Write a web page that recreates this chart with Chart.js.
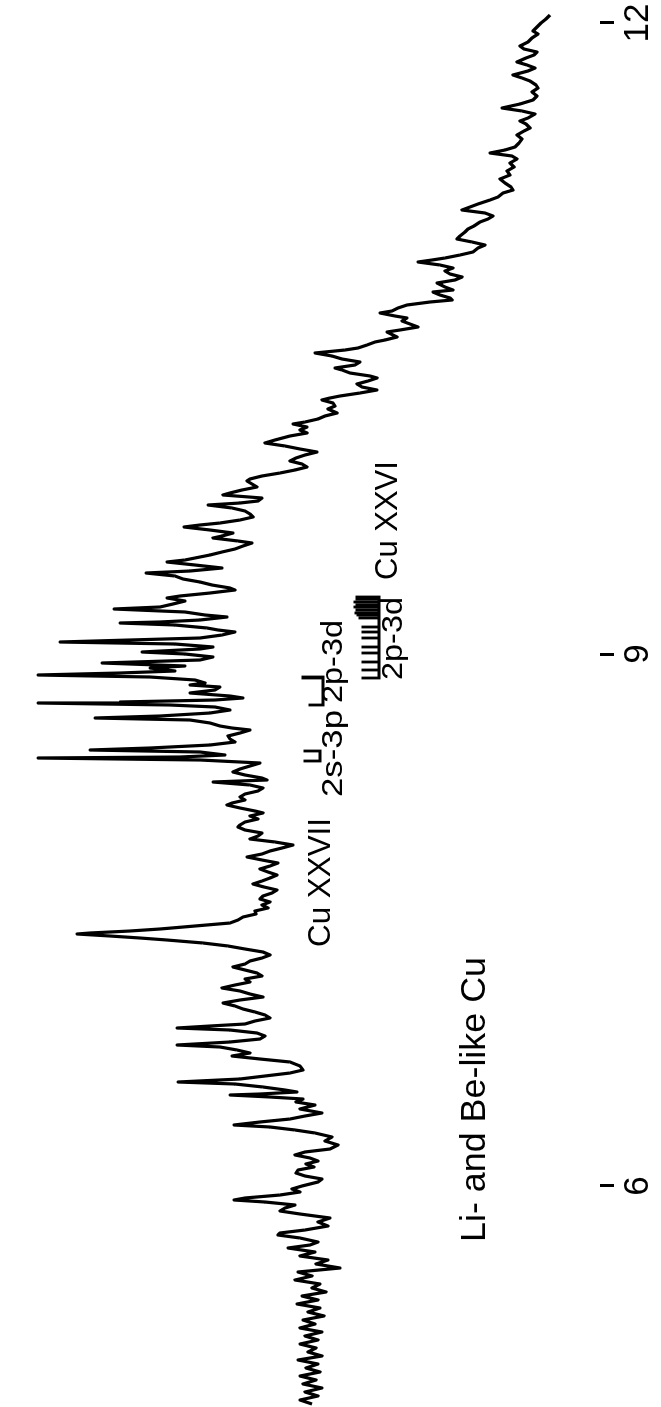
<!DOCTYPE html>
<html lang="en">
<head>
<meta charset="UTF-8" />
<title>Li- and Be-like Cu spectrum</title>
<script src="https://cdn.jsdelivr.net/npm/chart.js"></script>
<style>
  html, body { margin: 0; padding: 0; background: #fff; overflow: hidden; }
  /* the figure is printed sideways: draw it landscape, then turn it */
  #wrap {
    position: absolute; left: 0; top: 0;
    width: 1407px; height: 661px;
    transform-origin: 0 0;
    transform: translate(0, 1407px) rotate(-90deg);
  }
</style>
</head>
<body>
<div id="wrap"><canvas id="spectrum" width="1407" height="661"></canvas></div>
<script>
// scan position along the plate (mm from the long-wavelength end)
const SCAN_MM = [
  1.5,1.9,2.3,2.7,3.1,3.4,3.8,4.2,4.6,4.9,
  5.2,5.5,5.8,6.2,6.5,6.8,7.1,7.5,7.8,8.1,
  8.5,8.8,9.2,9.6,10.0,10.4,10.8,11.1,11.4,11.8,
  12.1,12.4,12.8,13.1,13.5,13.9,14.3,14.7,15.0,15.3,
  15.6,15.9,16.3,16.7,17.1,17.5,17.9,18.3,18.7,19.0,
  19.3,19.7,20.0,20.4,20.7,21.0,21.3,21.6,21.9,22.2,
  22.6,22.9,23.2,23.6,23.9,24.2,24.5,24.8,25.2,25.5,
  25.8,26.0,26.2,26.5,26.8,27.1,27.4,27.7,28.0,28.3,
  28.7,29.0,29.2,29.5,29.8,30.0,30.2,30.5,30.8,31.1,
  31.3,31.6,31.8,32.1,32.4,32.7,33.0,33.2,33.5,33.7,
  34.0,34.2,34.5,34.8,35.0,35.3,35.6,35.9,36.2,36.5,
  36.8,37.0,37.3,37.6,37.8,38.1,38.4,38.7,39.0,39.3,
  39.6,39.8,40.0,40.3,40.6,40.9,41.3,41.6,41.9,42.2,
  42.4,42.7,43.0,43.3,43.6,44.0,44.3,44.6,44.9,45.2,
  45.5,45.8,46.1,46.4,46.7,47.0,47.3,47.6,47.9,48.1,
  48.4,48.7,49.0,49.3,49.5,49.8,50.1,50.3,50.5,50.8,
  51.1,51.4,51.7,52.0,52.3,52.5,52.7,53.0,53.3,53.6,
  53.8,54.1,54.3,54.6,54.9,55.2,55.5,55.8,56.0,56.2,
  56.5,56.8,57.1,57.3,57.6,57.9,58.2,58.5,58.8,59.0,
  59.3,59.6,59.8,60.1,60.4,60.7,60.9,61.2,61.5,61.7,
  62.0,62.2,62.3,62.5,62.8,63.0,63.2,63.5,63.8,64.0,
  64.2,64.4,64.7,64.9,65.2,65.4,65.7,66.0,66.3,66.6,
  66.8,67.1,67.3,67.5,67.7,68.0,68.3,68.5,68.7,69.0,
  69.3,69.6,69.8,70.0,70.2,70.3,70.5,70.7,71.0,71.3,
  71.6,71.8,72.0,72.3,72.6,72.8,73.0,73.3,73.6,73.9,
  74.2,74.5,74.8,75.0,75.2,75.5,75.7,75.8,76.0,76.3,
  76.6,76.9,77.2,77.5,77.8,78.0,78.2,78.5,78.8,79.1,
  79.4,79.7,80.0,80.3,80.5,80.8,81.1,81.3,81.6,81.9,
  82.2,82.5,82.7,83.0,83.3,83.6,83.9,84.2,84.5,84.8,
  85.1,85.4,85.7,86.0,86.3,86.6,86.9,87.2,87.5,87.8,
  88.1,88.4,88.7,89.0,89.3,89.6,89.9,90.2,90.5,90.8,
  91.1,91.4,91.7,92.0,92.3,92.6,92.9,93.1,93.3,93.4,
  93.6,93.8,94.0,94.3,94.6,94.9,95.2,95.5,95.8,96.1,
  96.4,96.7,97.0,97.3,97.6,97.9,98.2,98.5,98.8,99.1,
  99.4,99.7,100.0,100.3,100.6,100.9,101.2,101.5,101.8,102.1,
  102.4,102.6,102.8,103.0,103.3,103.6,103.9,104.2,104.5,104.7,
  105.0,105.3,105.6,105.9,106.2,106.6,107.0,107.3,107.6,107.9,
  108.2,108.4,108.7,109.0,109.2,109.4,109.5,109.7,109.9,110.2,
  110.5,110.9,111.3,111.6,111.9,112.2,112.5,112.7,113.0,113.3,
  113.7,114.1,114.5,114.9,115.2,115.5,115.8,116.1,116.4,116.7,
  117.0,117.3,117.6,117.9,118.2,118.6,118.9,119.2,119.5,119.8,
  120.0,120.2,120.5,120.8,121.1,121.4,121.8,122.2,122.6,123.0,
  123.3,123.5,123.8,124.2,124.5,124.8,125.2,125.6,126.0,126.4,
  126.8,127.2,127.6,128.0,128.4,128.8,129.2,129.6,130.0,130.4,
  130.8,131.2,131.6,132.0,132.4,132.8,133.2,133.6,134.0,134.4,
  134.8,135.2,135.6,136.0,136.4,136.8,137.2,137.6,138.0,138.4,
  138.8,139.2,139.6,140.0,140.4
];

// densitometer signal (arb. units)
const COUNTS = [
  50,54,59,63,67,62,68,72,80,76,
  63,66,74,83,73,65,72,87,78,70,
  64,62,68,63,67,80,98,78,65,72,
  80,74,70,76,83,78,81,85,95,110,
  88,83,90,86,93,90,100,95,89,87,
  97,102,110,122,130,138,115,107,112,120,
  126,132,135,140,143,128,115,122,127,140,
  155,168,182,160,147,155,150,138,145,163,
  155,147,167,160,150,148,170,193,202,208,
  220,205,193,198,190,182,200,213,207,203,
  215,225,233,242,255,285,268,258,240,245,
  265,258,250,230,223,232,243,238,223,240,
  260,270,278,267,265,272,263,275,282,295,
  307,293,300,293,310,325,335,315,300,283,
  295,304,310,298,293,305,320,338,350,353,
  348,343,358,370,377,338,342,360,392,368,
  355,350,347,360,380,400,416,390,367,378,
  387,362,348,357,365,378,390,405,415,433,
  405,378,410,454,425,417,400,388,370,365,
  390,420,433,415,427,440,486,415,395,373,
  400,440,480,425,393,382,365,378,400,470,
  540,425,387,400,458,415,387,400,498,415,
  450,425,480,562,450,405,395,410,380,385,
  410,370,357,385,480,562,430,385,370,390,
  440,505,410,390,380,368,350,360,372,370,
  365,390,450,510,400,375,420,562,400,340,
  350,360,367,355,338,333,387,350,337,342,
  355,360,355,368,373,360,345,337,350,342,
  355,360,362,355,338,342,350,325,307,318,
  330,338,353,338,322,330,340,332,323,330,
  338,347,336,323,328,337,340,330,338,332,
  345,344,357,362,370,405,440,470,510,523,
  490,460,433,397,372,355,337,330,338,350,
  355,367,355,343,338,355,350,365,378,360,
  350,337,360,377,365,357,345,335,330,345,
  355,390,423,370,343,335,340,370,423,380,
  363,350,368,340,310,300,297,310,335,360,
  422,365,337,315,303,340,370,330,297,304,
  285,300,278,295,310,340,366,330,305,285,
  268,275,262,270,295,305,290,282,294,286,
  302,304,295,278,282,298,308,300,320,355,
  366,335,305,315,320,300,270,282,272,295,
  320,322,300,282,290,312,285,300,272,284,
  260,302,288,305,280,288,274,298,282,303,
  280,292,276,297,285,300,278,295,282,300,
  284,292,278,302,282,294,280,300,284,297,
  278,295,282,300,288
];

// wavelength fiducials (Å) and where they sit on the scan
const TICK_MM = [2.3, 65.4, 118.6];
const TICK_LABELS = ['12', '9', '6'];

// text on the plot: x in mm where the text starts, base = baseline in counts
const NOTES = [
  { text: 'Cu XXVI', at: 58.0, base: 203, size: 31 },
  { text: '2p-3d', at: 68.0, base: 198, size: 30, span: 8.3 },
  { text: '2s-3p', at: 79.7, base: 258, size: 30, span: 8.7 },
  { text: '2p-3d', at: 70.3, base: 258, size: 30, span: 8.3 },
  { text: 'Cu XXVII', at: 94.7, base: 270, size: 32, span: 12.9 },
  { text: 'Li- and Be-like Cu', at: 124.2, base: 115, size: 35, span: 28.5 }
];

// line identification combs: bar level, and each line [mm, top]
const MARKS = [
  { base: 221, lines: [[59.7,243],[59.9,243],[60.2,245],[60.5,243],[60.7,245],[61.0,243],
    [61.3,244],[61.5,242],[61.8,240],[62.7,237],[63.2,237],[63.8,237],[64.7,237],
    [65.3,237],[66.2,237],[67.0,237],[67.8,237]] },
  { base: 277, lines: [[67.8,297],[67.7,297],[70.5,290]] },
  { base: 280, lines: [[75.1,295],[76.1,295]] }
];

const notesPlugin = {
  id: 'notes',
  afterDatasetsDraw(chart) {
    const ctx = chart.ctx;
    const xs = chart.scales.x, ys = chart.scales.y;
    ctx.save();
    ctx.fillStyle = '#000';
    ctx.strokeStyle = '#000';
    ctx.textBaseline = 'alphabetic';
    ctx.textAlign = 'left';
    NOTES.forEach(n => {
      ctx.save();
      ctx.font = n.size + 'px "Liberation Sans", Arial, sans-serif';
      ctx.translate(xs.getPixelForValue(n.at), ys.getPixelForValue(n.base));
      if (n.span) {
        const want = Math.abs(xs.getPixelForValue(n.at - n.span) - xs.getPixelForValue(n.at));
        ctx.scale(want / ctx.measureText(n.text).width, 1);
      }
      ctx.fillText(n.text, 0, 0);
      ctx.restore();
    });
    ctx.lineWidth = 2.8;
    ctx.lineCap = 'square';
    MARKS.forEach(m => {
      const pos = m.lines.map(l => l[0]);
      const y0 = ys.getPixelForValue(m.base);
      ctx.beginPath();
      ctx.moveTo(xs.getPixelForValue(Math.min(...pos)), y0);
      ctx.lineTo(xs.getPixelForValue(Math.max(...pos)), y0);
      m.lines.forEach(([mm, top]) => {
        const x = xs.getPixelForValue(mm);
        ctx.moveTo(x, y0);
        ctx.lineTo(x, ys.getPixelForValue(top));
      });
      ctx.stroke();
    });
    ctx.restore();
  }
};

Chart.defaults.font.family = '"Liberation Sans", Arial, sans-serif';
Chart.defaults.color = '#000';

new Chart(document.getElementById('spectrum'), {
  type: 'line',
  data: {
    datasets: [{
      data: SCAN_MM.map((x, i) => ({ x: x, y: COUNTS[i] })),
      borderColor: '#000',
      borderWidth: 3.2,
      borderJoinStyle: 'round',
      pointRadius: 0,
      tension: 0,
      fill: false
    }]
  },
  options: {
    responsive: false,
    animation: false,
    events: [],
    layout: { padding: 0 },
    plugins: { legend: { display: false }, tooltip: { enabled: false } },
    scales: {
      x: {
        type: 'linear',
        reverse: true,
        min: 0,
        max: 140.7,
        border: { display: false },
        grid: { drawOnChartArea: false, drawTicks: true, tickLength: 14, lineWidth: 3, color: '#000' },
        ticks: {
          autoSkip: false,
          maxRotation: 0,
          padding: 3,
          font: { size: 35 },
          callback: v => TICK_LABELS[TICK_MM.indexOf(v)]
        },
        afterBuildTicks: s => { s.ticks = TICK_MM.map(v => ({ value: v })); },
        afterFit: s => { s.height = 61; }
      },
      y: { type: 'linear', min: 0, max: 600, display: false }
    }
  },
  plugins: [notesPlugin]
});
</script>
</body>
</html>
